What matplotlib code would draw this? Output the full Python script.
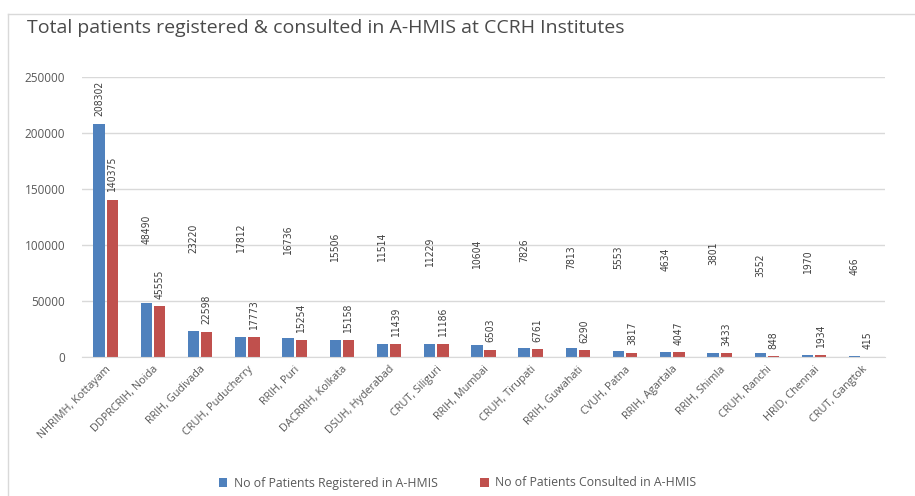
import matplotlib.pyplot as plt
import numpy as np
from matplotlib.lines import Line2D

# Institutes and patient counts
institutes = ["NHRIMH, Kottayam", "DDPRCRIH, Noida", "RRIH, Gudivada", "CRUH, Puducherry",
              "RRIH, Puri", "DACRRIH, Kolkata", "DSUH, Hyderabad", "CRUT, Siliguri",
              "RRIH, Mumbai", "CRUH, Tirupati", "RRIH, Guwahati", "CVUH, Patna",
              "RRIH, Agartala", "RRIH, Shimla", "CRUH, Ranchi", "HRID, Chennai", "CRUT, Gangtok"]
registered = [208302, 48490, 23220, 17812, 16736, 15506, 11514, 11229,
              10604, 7826, 7813, 5553, 4634, 3801, 3552, 1970, 466]
consulted = [140375, 45555, 22598, 17773, 15254, 15158, 11439, 11186,
             6503, 6761, 6290, 3817, 4047, 3433, 848, 1934, 415]

# where the "registered" labels float (Excel put them away from the bars)
reg_label_base = [None, 101000, 92500, 92500, 91000, 85000, 85000, 80000,
                  79000, 85000, 79000, 79000, 77000, 82000, 71000, 74000, 73000]

blue = "#4F81BD"
red = "#C0504D"
grey = "#595959"

fig = plt.figure(figsize=(9.15, 4.96), dpi=100)
ax = fig.add_axes([82 / 915, 1 - 357 / 496, 803 / 915, 280 / 496])

x = np.arange(len(institutes))
w = 0.24
ax.bar(x - 0.14, registered, w, color=blue, label="No of Patients Registered in A-HMIS")
ax.bar(x + 0.14, consulted, w, color=red, label="No of Patients Consulted in A-HMIS")

lblfont = dict(rotation=90, ha="center", va="bottom", fontsize=7.5, color="#404040",
               family="DejaVu Sans", fontstretch="condensed")
for i in range(len(institutes)):
    base = reg_label_base[i]
    if base is None:
        base = registered[i] + 6500
    ax.text(x[i] - 0.14, base, str(registered[i]), **lblfont)
    ax.text(x[i] + 0.14, consulted[i] + 6500, str(consulted[i]), **lblfont)

ax.set_xlim(-0.5, len(institutes) - 0.5)
ax.set_ylim(0, 250000)
ax.set_yticks(np.arange(0, 250001, 50000))
ax.yaxis.grid(True, color="#D9D9D9", linewidth=1)
ax.set_axisbelow(True)
for s in ["top", "right", "left"]:
    ax.spines[s].set_visible(False)
ax.spines["bottom"].set_color("#D9D9D9")
ax.tick_params(axis="y", length=0, colors=grey, labelsize=8.5, pad=12)
ax.tick_params(axis="x", length=0, pad=5)
ax.set_xticks(x)
ax.set_xticklabels(institutes, rotation=45, ha="right", rotation_mode="anchor",
                   fontsize=7.8, color=grey, family="Open Sans")
for t in ax.get_yticklabels():
    t.set_family("Open Sans")

fig.text(27 / 915, 1 - 28 / 496, "Total patients registered & consulted in A-HMIS at CCRH Institutes",
         fontsize=14, color="#4a4a4a", family="Open Sans", va="center")

fig.legend(loc="center", bbox_to_anchor=(0.5, 1 - 483 / 496), ncol=2, frameon=False,
           handlelength=0.7, handleheight=0.7, columnspacing=3.5, handletextpad=0.5,
           labelcolor=grey, prop={"family": "Open Sans", "size": 8.8})

# chart area border (only left and top visible in the crop)
fig.add_artist(Line2D([8 / 915, 8 / 915], [0, 1 - 14 / 496], transform=fig.transFigure,
                      color="#D9D9D9", linewidth=1))
fig.add_artist(Line2D([8 / 915, 1], [1 - 14 / 496, 1 - 14 / 496], transform=fig.transFigure,
                      color="#D9D9D9", linewidth=1))

fig.savefig("out.png", dpi=100, facecolor="white")
